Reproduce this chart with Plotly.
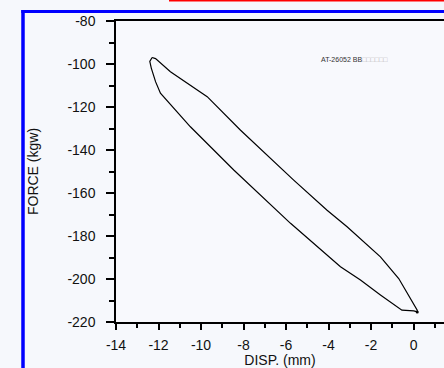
import plotly.graph_objects as go

# Hysteresis loop: displacement (mm) vs force (kgw)
disp = [-12.30, -12.14, -11.44, -9.71, -8.14, -5.64, -4.07, -3.13, -1.56, -0.70, 0.17, 0.17,
        0.01, -0.55, -1.56, -2.50, -3.44, -5.79, -8.46, -10.50, -11.91, -12.14, -12.34, -12.41, -12.30]
force = [-97.0, -97.5, -103.6, -115.2, -130.8, -154.0, -168.0, -175.7, -189.7, -199.8, -214.5, -215.3,
         -214.8, -214.5, -207.4, -200.5, -194.3, -174.1, -149.3, -129.2, -113.6, -108.2, -101.9, -98.8, -97.0]
end_disp = [0.17]
end_force = [-215.3]

x_ticks = [-14, -12, -10, -8, -6, -4, -2, 0]
x_labels = ["-14", "-12", "-10", "-8", "-6", "-4", "-2", "0"]
y_ticks = [-80, -100, -120, -140, -160, -180, -200, -220]
y_labels = ["-80", "-100", "-120", "-140", "-160", "-180", "-200", "-220"]
label_text = "AT-26052 BB<span style='color:#b8b8b8'>□□□□□□</span>"

L, W = 116, 328
T, H = 21, 300.7

fig = go.Figure()
fig.add_trace(go.Scatter(x=disp, y=force, mode="lines",
                         line=dict(color="black", width=1.2), hoverinfo="skip"))
fig.add_trace(go.Scatter(x=end_disp, y=end_force, mode="markers",
                         marker=dict(color="black", size=3), hoverinfo="skip"))

font = dict(family="Liberation Sans, Arial, sans-serif", size=14, color="#111")

fig.update_layout(
    width=444, height=368,
    margin=dict(l=L, r=0, t=T, b=368 - T - H),
    paper_bgcolor="#f6f8fc", plot_bgcolor="#f8f9fd",
    showlegend=False,
    font=font,
    xaxis=dict(range=[-14, 1.43], tickvals=x_ticks, ticktext=x_labels, showgrid=False, zeroline=False,
               showline=True, linecolor="black", linewidth=1.5, mirror=True,
               ticks="outside", ticklen=6, tickwidth=1.5, tickcolor="black",
               ticklabelstandoff=3,
               minor=dict(dtick=1, ticks="outside", ticklen=4, tickwidth=1.5, tickcolor="black"),
               title=dict(text="DISP. (mm)", font=dict(size=14), standoff=6),
               tickfont=dict(size=14)),
    yaxis=dict(range=[-220, -80], tickvals=y_ticks, ticktext=y_labels, showgrid=False, zeroline=False,
               showline=True, linecolor="black", linewidth=1.5,
               ticks="outside", ticklen=8, tickwidth=1.5, tickcolor="black",
               ticklabelstandoff=8,
               minor=dict(dtick=10, ticks="outside", ticklen=5, tickwidth=1.5, tickcolor="black"),
               title=dict(text="FORCE (kgw)", font=dict(size=14), standoff=26),
               tickfont=dict(size=14)),
)

fig.add_annotation(x=-4.43, y=-97.7, xref="x", yref="y", text=label_text, showarrow=False,
                   xanchor="left", yanchor="middle",
                   font=dict(size=7, color="#333", family="Liberation Sans, Arial, sans-serif"))

def px(xp):
    return (xp - L) / W

def py(yp):
    return (T + H - yp) / H

# y axis line extending slightly below the x axis (as in reference)
fig.add_shape(type="line", xref="paper", yref="paper", x0=0, x1=0, y0=py(T + H + 5), y1=0,
              line=dict(color="black", width=1.5))
# blue frame
fig.add_shape(type="line", xref="paper", yref="paper", x0=px(23), x1=px(23), y0=py(10), y1=py(370),
              line=dict(color="#0000ff", width=3.5))
fig.add_shape(type="line", xref="paper", yref="paper", x0=px(21.3), x1=px(446), y0=py(11.5), y1=py(11.5),
              line=dict(color="#0000ff", width=3))
# red line at top
fig.add_shape(type="line", xref="paper", yref="paper", x0=px(169), x1=px(446), y0=py(0.5), y1=py(0.5),
              line=dict(color="#ff0000", width=2))

fig.write_html("out.html", config={"displayModeBar": False},
               post_script="document.body.style.margin='0';")
